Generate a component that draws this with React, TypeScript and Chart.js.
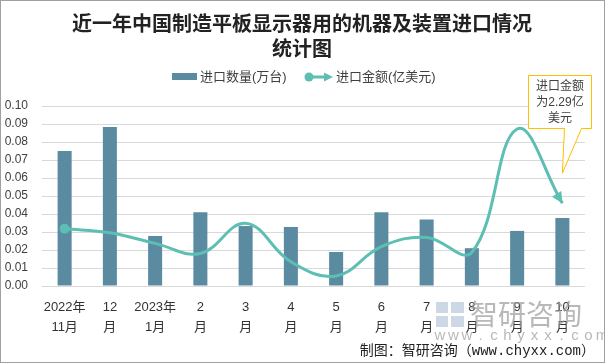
import React, { useEffect, useRef } from "react";
import { Chart, registerables } from "chart.js";

Chart.register(...registerables);

const labelTop = ["2022年", "12", "2023年", "2", "3", "4", "5", "6", "7", "8", "9", "10"];
const labelBottom = ["11月", "月", "1月", "月", "月", "月", "月", "月", "月", "月", "月", "月"];
const quantity = [0.075, 0.0883, 0.0278, 0.041, 0.0333, 0.0328, 0.0189, 0.041, 0.037, 0.021, 0.0306, 0.0378];
const amount = [0.0318, 0.0296, 0.0237, 0.0181, 0.0348, 0.0135, 0.0056, 0.0219, 0.027, 0.0187, 0.0872, 0.046];
const yTicks = [0, 0.01, 0.02, 0.03, 0.04, 0.05, 0.06, 0.07, 0.08, 0.09, 0.1];

const seriesNames = ["进口数量(万台)", "进口金额(亿美元)"];
const titleLines = ["近一年中国制造平板显示器用的机器及装置进口情况", "统计图"];
const noteLines = ["进口金额", "为2.29亿", "美元"];
const footer = "制图：智研咨询（www.chyxx.com）";

const BAR = "#5A8BA1";
const LINE = "#5DBFB4";
const CJK = "'Liberation Sans', 'Noto Sans CJK SC', sans-serif";

const decor = {
  id: "decor",
  beforeDraw(chart: any) {
    const ctx = chart.ctx;
    ctx.save();
    ctx.fillStyle = "#fff";
    ctx.fillRect(0, 0, chart.width, chart.height);
    ctx.restore();
  },
  afterDraw(chart: any) {
    const ctx = chart.ctx;
    ctx.save();
    // title
    ctx.fillStyle = "#222";
    ctx.textAlign = "center";
    ctx.textBaseline = "middle";
    ctx.font = "bold 20px 'Noto Sans CJK SC', sans-serif";
    ctx.fillText(titleLines[0], 302, 23);
    ctx.fillText(titleLines[1], 302, 48);

    // legend
    ctx.font = `13px ${CJK}`;
    ctx.textAlign = "left";
    ctx.fillStyle = BAR;
    ctx.fillRect(172, 73, 25, 7);
    ctx.fillStyle = "#404040";
    ctx.fillText(seriesNames[0], 200, 77);
    ctx.strokeStyle = LINE;
    ctx.fillStyle = LINE;
    ctx.lineWidth = 3;
    ctx.beginPath();
    ctx.moveTo(309, 77);
    ctx.lineTo(326, 77);
    ctx.stroke();
    ctx.beginPath();
    ctx.arc(309, 77, 4.5, 0, Math.PI * 2);
    ctx.fill();
    ctx.beginPath();
    ctx.moveTo(333, 77);
    ctx.lineTo(324, 72.5);
    ctx.lineTo(324, 81.5);
    ctx.closePath();
    ctx.fill();
    ctx.fillStyle = "#404040";
    ctx.fillText(seriesNames[1], 336, 77);

    // line start circle and end arrow
    const meta = chart.getDatasetMeta(1);
    const pts = meta.data;
    const first = pts[0];
    ctx.fillStyle = LINE;
    ctx.beginPath();
    ctx.arc(first.x, first.y, 5, 0, Math.PI * 2);
    ctx.fill();
    const last = pts[pts.length - 1];
    const cpx = last.cp1x ?? pts[pts.length - 2].x;
    const cpy = last.cp1y ?? pts[pts.length - 2].y;
    const ang = Math.atan2(last.y - cpy, last.x - cpx);
    const len = 11, half = 5.5;
    const bx = last.x - Math.cos(ang) * len;
    const by = last.y - Math.sin(ang) * len;
    ctx.beginPath();
    ctx.moveTo(last.x, last.y);
    ctx.lineTo(bx + Math.sin(ang) * half, by - Math.cos(ang) * half);
    ctx.lineTo(bx - Math.sin(ang) * half, by + Math.cos(ang) * half);
    ctx.closePath();
    ctx.fill();

    // annotation callout
    const tipX = last.x;
    const tipY = last.y - 30;
    ctx.strokeStyle = "#FFC000";
    ctx.lineWidth = 1;
    ctx.fillStyle = "#fff";
    ctx.beginPath();
    ctx.moveTo(528.5, 75.5);
    ctx.lineTo(591.5, 75.5);
    ctx.lineTo(591.5, 128.5);
    ctx.lineTo(581.5, 128.5);
    ctx.lineTo(tipX, tipY);
    ctx.lineTo(564.5, 128.5);
    ctx.lineTo(528.5, 128.5);
    ctx.closePath();
    ctx.fill();
    ctx.stroke();
    ctx.fillStyle = "#404040";
    ctx.textAlign = "center";
    ctx.font = `12px ${CJK}`;
    ctx.fillText(noteLines[0], 560, 87);
    ctx.fillText(noteLines[1], 560, 103);
    ctx.fillText(noteLines[2], 560, 119);

    // watermark
    ctx.globalAlpha = 0.45;
    ctx.fillStyle = "#8FA8C8";
    ctx.fillRect(436, 302, 12, 11);
    ctx.fillRect(451, 302, 13, 11);
    ctx.fillRect(436, 316, 12, 11);
    ctx.fillRect(451, 316, 13, 11);
    ctx.globalAlpha = 0.7;
    ctx.fillStyle = "#9A9A9A";
    ctx.textAlign = "left";
    ctx.font = "28px 'Noto Sans CJK SC', sans-serif";
    ctx.fillText("智研咨询", 470, 314);
    ctx.font = "15px 'Liberation Sans', sans-serif";
    ctx.textAlign = "center";
    const ww = "www.chyxx.com";
    for (let i = 0; i < ww.length; i++) {
      ctx.fillText(ww[i], 440 + i * 13.5, 336);
    }
    ctx.globalAlpha = 1;

    // footer
    ctx.fillStyle = "#222";
    ctx.font = "14px 'Liberation Mono', 'Noto Sans CJK SC', monospace";
    ctx.textAlign = "right";
    ctx.fillText(footer, 595, 351);

    // frame
    ctx.strokeStyle = "#A0A0A0";
    ctx.lineWidth = 1;
    ctx.strokeRect(0.5, 0.5, chart.width - 1, chart.height - 1);
    ctx.restore();
  },
};

export default function App() {
  const ref = useRef<HTMLCanvasElement | null>(null);
  useEffect(() => {
    document.body.style.margin = "0";
    const canvas = ref.current!;
    const labels = labelTop.map((t, i) => [t, labelBottom[i]]);
    const chart = new Chart(canvas, {
      type: "bar",
      data: {
        labels,
        datasets: [
          {
            type: "bar",
            label: seriesNames[0],
            data: quantity,
            backgroundColor: BAR,
            barPercentage: 0.31,
            categoryPercentage: 1,
            order: 2,
          },
          {
            type: "line",
            label: seriesNames[1],
            data: amount,
            borderColor: LINE,
            borderWidth: 3,
            pointRadius: 0,
            tension: 0.4,
            fill: false,
            order: 1,
          } as any,
        ],
      },
      options: {
        responsive: false,
        animation: false,
        layout: { padding: { top: 106, left: 0, right: 20, bottom: 0 } },
        plugins: {
          legend: { display: false },
          title: { display: false },
          tooltip: { enabled: false },
        },
        scales: {
          x: {
            grid: { display: false },
            border: { display: false },
            ticks: {
              color: "#333",
              font: { size: 13, family: CJK, lineHeight: 1.5 },
              maxRotation: 0,
              autoSkip: false,
              padding: 4,
            },
            afterFit: (s: any) => {
              s.height = 77;
            },
          },
          y: {
            min: 0,
            max: 0.1,
            afterBuildTicks: (s: any) => {
              s.ticks = yTicks.map((v) => ({ value: v }));
            },
            grid: { color: "#D9D9D9", drawTicks: false },
            border: { display: false },
            ticks: {
              color: "#404040",
              font: { size: 12, family: CJK },
              padding: 14,
              callback: (v: any) => Number(v).toFixed(2),
            },
            afterFit: (s: any) => {
              s.width = 42;
            },
          },
        },
      },
      plugins: [decor],
    });
    return () => chart.destroy();
  }, []);
  return (
    <div style={{ width: 605, height: 363 }}>
      <canvas ref={ref} width={605} height={363} style={{ width: 605, height: 363, display: "block" }} />
    </div>
  );
}
